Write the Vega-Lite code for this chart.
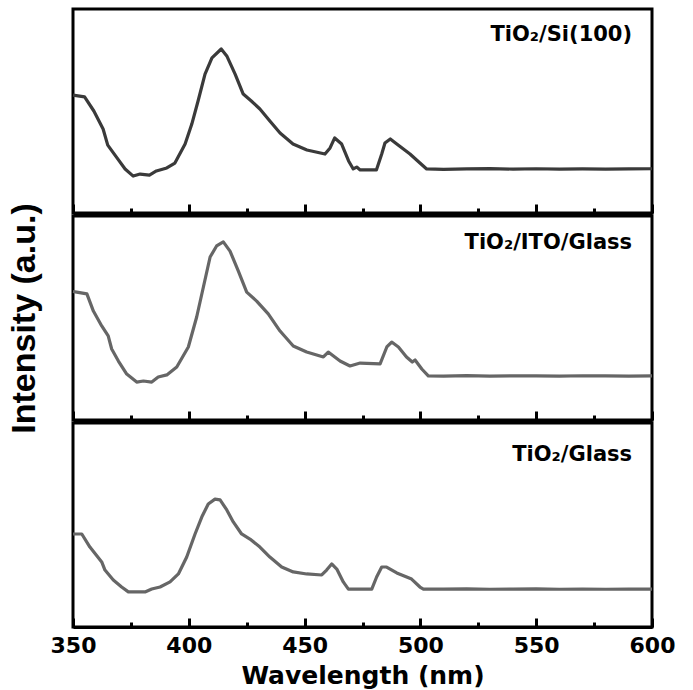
{
  "$schema": "https://vega.github.io/schema/vega-lite/v6.json",
  "padding": {"left": 7, "top": 7, "right": 40, "bottom": 0},
  "background": "white",
  "spacing": -5,
  "title": {"text": "Intensity (a.u.)", "orient": "left", "anchor": "middle", "frame": "bounds", "font": "Liberation Sans", "fontWeight": "bold", "fontSize": 34, "color": "black", "offset": 7, "dx": 30},
  "config": {
    "view": {"stroke": "black", "strokeWidth": 3},
    "axis": {"grid": false},
    "concat": {"spacing": -5}
  },
  "datasets": {
    "si": [
      {"wl": 350, "v": 57.8}, {"wl": 355, "v": 56.9}, {"wl": 359, "v": 50.0}, {"wl": 363, "v": 41.2},
      {"wl": 365, "v": 33.3}, {"wl": 369, "v": 27.0}, {"wl": 372.5, "v": 21.6}, {"wl": 376, "v": 18.1},
      {"wl": 379, "v": 19.1}, {"wl": 383, "v": 18.6}, {"wl": 386, "v": 20.6}, {"wl": 390.5, "v": 22.1},
      {"wl": 394, "v": 24.5}, {"wl": 398.4, "v": 33.8}, {"wl": 401.3, "v": 43.6}, {"wl": 404, "v": 54.9},
      {"wl": 407, "v": 68.1}, {"wl": 410, "v": 76.0}, {"wl": 414, "v": 80.4}, {"wl": 416.4, "v": 77.0},
      {"wl": 420, "v": 68.1}, {"wl": 423.5, "v": 58.3}, {"wl": 427, "v": 54.9}, {"wl": 430.7, "v": 51.0},
      {"wl": 435, "v": 45.1}, {"wl": 439.4, "v": 39.2}, {"wl": 445, "v": 33.8}, {"wl": 451, "v": 30.9},
      {"wl": 458.8, "v": 28.9}, {"wl": 461, "v": 31.9}, {"wl": 463, "v": 36.8}, {"wl": 466, "v": 33.8},
      {"wl": 469, "v": 25.5}, {"wl": 471, "v": 21.6}, {"wl": 472.5, "v": 22.5}, {"wl": 474, "v": 21.1},
      {"wl": 478, "v": 21.1}, {"wl": 481, "v": 21.1}, {"wl": 483.3, "v": 28.9}, {"wl": 484.7, "v": 34.3},
      {"wl": 487, "v": 36.3}, {"wl": 489.8, "v": 33.8}, {"wl": 495.5, "v": 28.9}, {"wl": 499.8, "v": 24.5},
      {"wl": 502.7, "v": 21.6}, {"wl": 510, "v": 21.4}, {"wl": 520, "v": 21.6}, {"wl": 530, "v": 21.8},
      {"wl": 540, "v": 21.5}, {"wl": 550, "v": 21.7}, {"wl": 560, "v": 21.5}, {"wl": 570, "v": 21.6},
      {"wl": 580, "v": 21.5}, {"wl": 590, "v": 21.6}, {"wl": 600, "v": 21.7}
    ],
    "ito": [
      {"wl": 350, "v": 63.0}, {"wl": 351.6, "v": 62.7}, {"wl": 356, "v": 61.8}, {"wl": 358.8, "v": 53.4},
      {"wl": 362.4, "v": 46.1}, {"wl": 365.2, "v": 41.2}, {"wl": 366.7, "v": 34.8}, {"wl": 369.6, "v": 28.9},
      {"wl": 373.2, "v": 22.5}, {"wl": 377.5, "v": 18.6}, {"wl": 380.4, "v": 19.1}, {"wl": 384, "v": 18.6},
      {"wl": 386.8, "v": 21.1}, {"wl": 390.5, "v": 22.1}, {"wl": 394.8, "v": 26.0}, {"wl": 399.8, "v": 35.8},
      {"wl": 403.4, "v": 50.5}, {"wl": 406.3, "v": 65.2}, {"wl": 409.2, "v": 79.9}, {"wl": 412, "v": 85.3},
      {"wl": 414.9, "v": 87.3}, {"wl": 417.8, "v": 82.8}, {"wl": 421.4, "v": 73.0}, {"wl": 425, "v": 62.7},
      {"wl": 429.3, "v": 58.3}, {"wl": 434.3, "v": 52.0}, {"wl": 439.4, "v": 43.6}, {"wl": 445.1, "v": 36.3},
      {"wl": 450.9, "v": 33.3}, {"wl": 458.1, "v": 30.9}, {"wl": 460.2, "v": 33.3}, {"wl": 465.3, "v": 28.9},
      {"wl": 469.6, "v": 26.5}, {"wl": 474, "v": 27.9}, {"wl": 482.6, "v": 27.5}, {"wl": 485.5, "v": 35.8},
      {"wl": 487.6, "v": 38.2}, {"wl": 490.5, "v": 35.8}, {"wl": 494, "v": 30.9}, {"wl": 496.5, "v": 28.4},
      {"wl": 497.7, "v": 29.4}, {"wl": 500.6, "v": 25.0}, {"wl": 503.4, "v": 21.6}, {"wl": 510, "v": 21.5},
      {"wl": 520, "v": 21.8}, {"wl": 530, "v": 21.5}, {"wl": 540, "v": 21.7}, {"wl": 550, "v": 21.6},
      {"wl": 560, "v": 21.5}, {"wl": 570, "v": 21.7}, {"wl": 580, "v": 21.6}, {"wl": 590, "v": 21.5},
      {"wl": 600, "v": 21.6}
    ],
    "glass": [
      {"wl": 350, "v": 45.6}, {"wl": 353.8, "v": 45.6}, {"wl": 357.3, "v": 39.2}, {"wl": 362.4, "v": 31.9},
      {"wl": 363.8, "v": 27.9}, {"wl": 367.4, "v": 23.0}, {"wl": 371, "v": 19.6}, {"wl": 373.9, "v": 17.2},
      {"wl": 377.5, "v": 17.2}, {"wl": 381.1, "v": 17.2}, {"wl": 384, "v": 18.6}, {"wl": 387.6, "v": 19.6},
      {"wl": 391.9, "v": 22.1}, {"wl": 395.5, "v": 26.0}, {"wl": 399.1, "v": 34.3}, {"wl": 402.7, "v": 45.6},
      {"wl": 405.6, "v": 53.9}, {"wl": 408.4, "v": 60.3}, {"wl": 411.3, "v": 62.7}, {"wl": 413.5, "v": 62.3},
      {"wl": 416.4, "v": 57.4}, {"wl": 419.2, "v": 51.5}, {"wl": 422.8, "v": 45.6}, {"wl": 426.4, "v": 43.1},
      {"wl": 430.7, "v": 39.2}, {"wl": 435, "v": 34.3}, {"wl": 440.1, "v": 29.4}, {"wl": 445.1, "v": 27.0},
      {"wl": 450.9, "v": 26.0}, {"wl": 457.4, "v": 25.5}, {"wl": 459.5, "v": 27.9}, {"wl": 461.7, "v": 30.9},
      {"wl": 463.9, "v": 28.4}, {"wl": 466.7, "v": 22.1}, {"wl": 468.9, "v": 18.6}, {"wl": 474, "v": 18.6},
      {"wl": 479, "v": 18.6}, {"wl": 481.1, "v": 24.5}, {"wl": 483.3, "v": 29.4}, {"wl": 485.4, "v": 29.4},
      {"wl": 489.8, "v": 26.5}, {"wl": 496.2, "v": 23.5}, {"wl": 499.8, "v": 19.6}, {"wl": 501.3, "v": 18.6},
      {"wl": 510, "v": 18.6}, {"wl": 520, "v": 18.7}, {"wl": 530, "v": 18.5}, {"wl": 540, "v": 18.6},
      {"wl": 550, "v": 18.7}, {"wl": 560, "v": 18.5}, {"wl": 570, "v": 18.6}, {"wl": 580, "v": 18.5},
      {"wl": 590, "v": 18.6}, {"wl": 600, "v": 18.6}
    ],
    "labels": [
      {"panel": "si", "wl": 591.4, "v": 84.3, "label": "TiO₂/Si(100)"},
      {"panel": "ito", "wl": 591.4, "v": 83.8, "label": "TiO₂/ITO/Glass"},
      {"panel": "glass", "wl": 591.4, "v": 81.4, "label": "TiO₂/Glass"}
    ]
  },
  "vconcat": [
    {
      "width": 579, "height": 204,
      "layer": [
        {
          "data": {"name": "si"},
          "mark": {"type": "line", "color": "#3a3a3a", "strokeWidth": 3.2, "strokeJoin": "round"},
          "encoding": {
            "x": {"field": "wl", "type": "quantitative", "scale": {"domain": [350, 600], "nice": false},
              "axis": {"orient": "bottom", "values": [350, 375, 400, 425, 450, 475, 500, 525, 550, 575, 600],
                "tickSize": {"condition": {"test": "datum.value % 50 === 0", "value": -9}, "value": -5},
                "tickWidth": 3, "tickColor": "black", "labels": false, "title": null,
                "domain": true, "domainColor": "black", "domainWidth": 3}},
            "y": {"field": "v", "type": "quantitative", "scale": {"domain": [0, 100]}, "axis": null}
          }
        },
        {
          "data": {"name": "labels"},
          "transform": [{"filter": "datum.panel === 'si'"}],
          "mark": {"type": "text", "align": "right", "baseline": "alphabetic", "font": "DejaVu Sans", "fontWeight": "bold", "fontSize": 21, "color": "black"},
          "encoding": {
            "x": {"field": "wl", "type": "quantitative"},
            "y": {"field": "v", "type": "quantitative"},
            "text": {"field": "label"}
          }
        }
      ]
    },
    {
      "width": 579, "height": 204,
      "layer": [
        {
          "data": {"name": "ito"},
          "mark": {"type": "line", "color": "#666666", "strokeWidth": 3.2, "strokeJoin": "round"},
          "encoding": {
            "x": {"field": "wl", "type": "quantitative", "scale": {"domain": [350, 600], "nice": false},
              "axis": {"orient": "bottom", "values": [350, 375, 400, 425, 450, 475, 500, 525, 550, 575, 600],
                "tickSize": {"condition": {"test": "datum.value % 50 === 0", "value": -9}, "value": -5},
                "tickWidth": 3, "tickColor": "black", "labels": false, "title": null,
                "domain": true, "domainColor": "black", "domainWidth": 3}},
            "y": {"field": "v", "type": "quantitative", "scale": {"domain": [0, 100]}, "axis": null}
          }
        },
        {
          "data": {"name": "labels"},
          "transform": [{"filter": "datum.panel === 'ito'"}],
          "mark": {"type": "text", "align": "right", "baseline": "alphabetic", "font": "DejaVu Sans", "fontWeight": "bold", "fontSize": 21, "color": "black"},
          "encoding": {
            "x": {"field": "wl", "type": "quantitative"},
            "y": {"field": "v", "type": "quantitative"},
            "text": {"field": "label"}
          }
        }
      ]
    },
    {
      "width": 579, "height": 204,
      "layer": [
        {
          "data": {"name": "glass"},
          "mark": {"type": "line", "color": "#666666", "strokeWidth": 3.2, "strokeJoin": "round"},
          "encoding": {
            "x": {"field": "wl", "type": "quantitative", "scale": {"domain": [350, 600], "nice": false},
              "axis": {"orient": "bottom", "values": [350, 375, 400, 425, 450, 475, 500, 525, 550, 575, 600],
                "tickSize": {"condition": {"test": "datum.value % 50 === 0", "value": -9}, "value": -5},
                "tickWidth": 3, "tickColor": "black",
                "labelExpr": "datum.value % 50 === 0 ? datum.label : ''",
                "labelFont": "DejaVu Sans", "labelFontWeight": "bold", "labelFontSize": 22, "labelColor": "black", "labelPadding": 17, "labelFlush": false, "labelOverlap": false,
                "title": "Wavelength (nm)", "titleFont": "DejaVu Sans", "titleFontWeight": "bold", "titleFontSize": 25, "titleColor": "black", "titlePadding": 3,
                "domain": true, "domainColor": "black", "domainWidth": 3}},
            "y": {"field": "v", "type": "quantitative", "scale": {"domain": [0, 100]}, "axis": null}
          }
        },
        {
          "data": {"name": "labels"},
          "transform": [{"filter": "datum.panel === 'glass'"}],
          "mark": {"type": "text", "align": "right", "baseline": "alphabetic", "font": "DejaVu Sans", "fontWeight": "bold", "fontSize": 21, "color": "black"},
          "encoding": {
            "x": {"field": "wl", "type": "quantitative"},
            "y": {"field": "v", "type": "quantitative"},
            "text": {"field": "label"}
          }
        }
      ]
    }
  ]
}
